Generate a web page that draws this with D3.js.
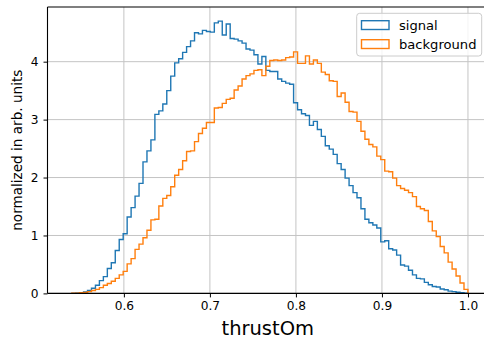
<!DOCTYPE html>
<html>
<head>
<meta charset="utf-8">
<script src="https://cdn.jsdelivr.net/npm/d3@7"></script>
<style>
  html, body { margin: 0; padding: 0; background: #fff; }
  svg { display: block; font-family: "DejaVu Sans", sans-serif; }
</style>
</head>
<body>
<svg id="chart" width="484" height="343"></svg>
<script>
// Histogram binning: 100 equal bins over the thrust range
const binLo = 0.5393;
const binHi = 1.0;
const binCount = 100;

// Normalized bin heights (area = 1) for each sample
const signalValues = [
  0.00, 0.005, 0.01, 0.025, 0.05, 0.09, 0.14, 0.22, 0.29, 0.43,
  0.53, 0.74, 0.93, 1.03, 1.32, 1.48, 1.68, 1.90, 2.27, 2.46,
  2.65, 3.09, 3.15, 3.27, 3.50, 3.75, 3.98, 4.05, 4.16, 4.26,
  4.36, 4.50, 4.48, 4.54, 4.52, 4.51, 4.67, 4.70, 4.46, 4.65,
  4.40, 4.39, 4.36, 4.32, 4.22, 4.20, 4.12, 3.96, 4.09, 3.85,
  3.83, 3.83, 3.70, 3.66, 3.63, 3.61, 3.29, 3.17, 3.10, 3.07,
  2.90, 2.97, 2.83, 2.71, 2.55, 2.49, 2.40, 2.24, 2.14, 1.99,
  1.86, 1.74, 1.65, 1.46, 1.28, 1.22, 1.18, 1.13, 0.89, 0.91,
  0.77, 0.75, 0.66, 0.49, 0.47, 0.40, 0.32, 0.26, 0.25, 0.19,
  0.15, 0.12, 0.11, 0.075, 0.063, 0.04, 0.03, 0.02, 0.01, 0.005
];

const backgroundValues = [
  0.005, 0.005, 0.01, 0.015, 0.03, 0.05, 0.07, 0.10, 0.14, 0.17,
  0.21, 0.26, 0.32, 0.38, 0.51, 0.60, 0.76, 0.85, 0.96, 1.09,
  1.27, 1.28, 1.51, 1.64, 1.69, 1.84, 2.04, 2.14, 2.29, 2.45,
  2.46, 2.62, 2.76, 2.85, 2.95, 2.95, 3.20, 3.21, 3.28, 3.35,
  3.37, 3.51, 3.58, 3.70, 3.76, 3.79, 3.85, 3.86, 3.76, 3.92,
  4.02, 4.03, 4.02, 4.03, 4.07, 4.08, 4.17, 3.97, 3.97, 4.10,
  3.96, 4.03, 3.97, 3.82, 3.78, 3.67, 3.66, 3.40, 3.46, 3.30,
  3.14, 3.13, 2.97, 2.80, 2.66, 2.57, 2.53, 2.37, 2.31, 2.11,
  2.10, 1.99, 1.86, 1.81, 1.78, 1.74, 1.67, 1.50, 1.46, 1.43,
  1.24, 1.08, 0.98, 0.81, 0.70, 0.54, 0.42, 0.30, 0.18, 0.07
];

const seriesNames = ["signal", "background"];
const seriesColors = ["#1f77b4", "#ff7f0e"];

const xTicks = [0.6, 0.7, 0.8, 0.9, 1.0];
const xTickLabels = ["0.6", "0.7", "0.8", "0.9", "1.0"];
const yTicks = [0, 1, 2, 3, 4];
const yTickLabels = ["0", "1", "2", "3", "4"];

const xLabel = "thrustOm";
const yLabel = "normalized in arb. units";

// ---- layout ----
const plot = { left: 47.5, right: 488, top: 7, bottom: 293.4 };
const svg = d3.select("#chart");

const x = d3.scaleLinear().domain([0.5112, 1.0233]).range([plot.left, plot.right]);
const y = d3.scaleLinear().domain([0, 4.944]).range([plot.bottom, plot.top]);

const edges = d3.range(binCount + 1).map(i => binLo + i * (binHi - binLo) / binCount);

// grid
const grid = svg.append("g").attr("stroke", "#c4c4c4").attr("stroke-width", 1);
xTicks.forEach(t => {
  grid.append("line")
    .attr("x1", x(t)).attr("x2", x(t))
    .attr("y1", plot.top).attr("y2", plot.bottom);
});
yTicks.forEach(t => {
  grid.append("line")
    .attr("x1", plot.left).attr("x2", plot.right)
    .attr("y1", y(t)).attr("y2", y(t));
});

// step outlines
const line = d3.line().x(d => x(d[0])).y(d => y(d[1]));
function stepPoints(values) {
  const pts = [[edges[0], 0]];
  values.forEach((v, i) => {
    pts.push([edges[i], v]);
    pts.push([edges[i + 1], v]);
  });
  pts.push([edges[binCount], 0]);
  return pts;
}
[signalValues, backgroundValues].forEach((vals, i) => {
  svg.append("path")
    .attr("d", line(stepPoints(vals)))
    .attr("fill", "none")
    .attr("stroke", seriesColors[i])
    .attr("stroke-width", 1.4)
    .attr("stroke-linejoin", "miter");
});

// axes
const xAxis = d3.axisBottom(x)
  .tickValues(xTicks)
  .tickFormat((d, i) => xTickLabels[i])
  .tickSize(4)
  .tickPadding(4);
const gx = svg.append("g")
  .attr("transform", `translate(0,${plot.bottom})`)
  .call(xAxis);
gx.select(".domain").remove();
gx.selectAll("line").attr("stroke", "#000").attr("stroke-width", 1);
gx.selectAll("text")
  .attr("font-size", 12.2)
  .attr("fill", "#000")
  .attr("font-family", "DejaVu Sans, sans-serif");

const yAxis = d3.axisLeft(y)
  .tickValues(yTicks)
  .tickFormat((d, i) => yTickLabels[i])
  .tickSize(4)
  .tickPadding(5);
const gy = svg.append("g")
  .attr("transform", `translate(${plot.left},0)`)
  .call(yAxis);
gy.select(".domain").remove();
gy.selectAll("line").attr("stroke", "#000").attr("stroke-width", 1);
gy.selectAll("text")
  .attr("font-size", 12.2)
  .attr("fill", "#000")
  .attr("font-family", "DejaVu Sans, sans-serif");

// spines (left, bottom, top)
const spines = svg.append("g").attr("stroke", "#000").attr("stroke-width", 1.1);
spines.append("line").attr("x1", plot.left).attr("x2", plot.left).attr("y1", plot.top).attr("y2", plot.bottom);
spines.append("line").attr("x1", plot.left).attr("x2", plot.right).attr("y1", plot.bottom).attr("y2", plot.bottom);
spines.append("line").attr("x1", plot.left).attr("x2", plot.right).attr("y1", plot.top).attr("y2", plot.top);

// axis labels
svg.append("text")
  .attr("x", (plot.left + plot.right) / 2)
  .attr("y", 334.5)
  .attr("text-anchor", "middle")
  .attr("font-size", 19.5)
  .attr("fill", "#000")
  .text(xLabel);

svg.append("text")
  .attr("transform", `translate(22,${(plot.top + plot.bottom) / 2}) rotate(-90)`)
  .attr("text-anchor", "middle")
  .attr("font-size", 13.6)
  .attr("fill", "#000")
  .text(yLabel);

// legend
const legend = svg.append("g");
legend.append("rect")
  .attr("x", 356.7).attr("y", 13.3)
  .attr("width", 125).attr("height", 42.7)
  .attr("rx", 3).attr("ry", 3)
  .attr("fill", "#fff").attr("fill-opacity", 0.8)
  .attr("stroke", "#cccccc").attr("stroke-width", 1);
seriesNames.forEach((name, i) => {
  const cy = 25 + i * 19;
  legend.append("rect")
    .attr("x", 361.5).attr("y", cy - 4.3)
    .attr("width", 27.5).attr("height", 8.8)
    .attr("fill", "none")
    .attr("stroke", seriesColors[i])
    .attr("stroke-width", 1.4);
  legend.append("text")
    .attr("x", 399).attr("y", cy + 4.6)
    .attr("font-size", 13.1)
    .attr("fill", "#000")
    .text(name);
});
</script>
</body>
</html>
